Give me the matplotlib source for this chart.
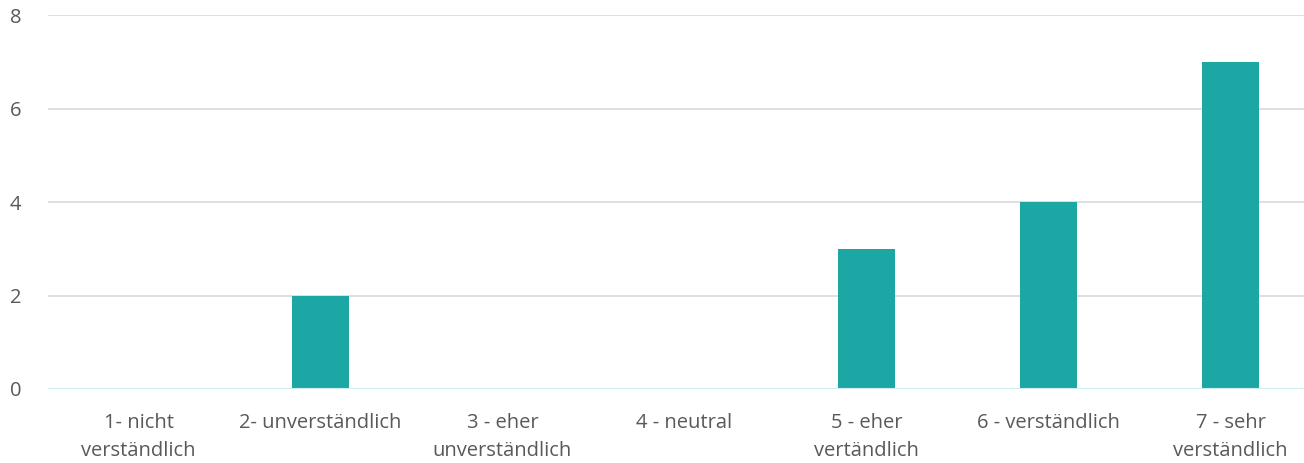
import matplotlib.pyplot as plt

categories = ["1- nicht\nverständlich", "2- unverständlich", "3 - eher\nunverständlich",
              "4 - neutral", "5 - eher\nvertändlich", "6 - verständlich", "7 - sehr\nverständlich"]
counts = [0, 2, 0, 0, 3, 4, 7]
yticks = [0, 2, 4, 6, 8]

plt.rcParams['font.family'] = ['Open Sans', 'DejaVu Sans']

W, H = 1304, 463
fig = plt.figure(figsize=(W / 100, H / 100), dpi=100)
# plot area runs past the right edge of the image
ax = fig.add_axes([47.5 / W, 74 / H, 1274 / W, 374 / H])

x = range(len(categories))
ax.bar(x, counts, width=0.313, color='#1ca7a5', zorder=3)

ax.set_xlim(-0.5, len(categories) - 0.5)
ax.set_ylim(0, 8)
ax.set_yticks(yticks)
ax.set_xticks(list(x))
ax.set_xticklabels(categories, linespacing=1.55)

for y in yticks[1:]:
    ax.axhline(y, color='#d9d9d9', lw=1.2, zorder=1)
ax.axhline(0, color='#cdeff2', lw=1.5, zorder=4)

for s in ax.spines.values():
    s.set_visible(False)
ax.tick_params(length=0, labelsize=14.5, colors='#595959')
ax.tick_params(axis='y', pad=19)
ax.tick_params(axis='x', pad=17)

fig.savefig('out.png', dpi=100)
